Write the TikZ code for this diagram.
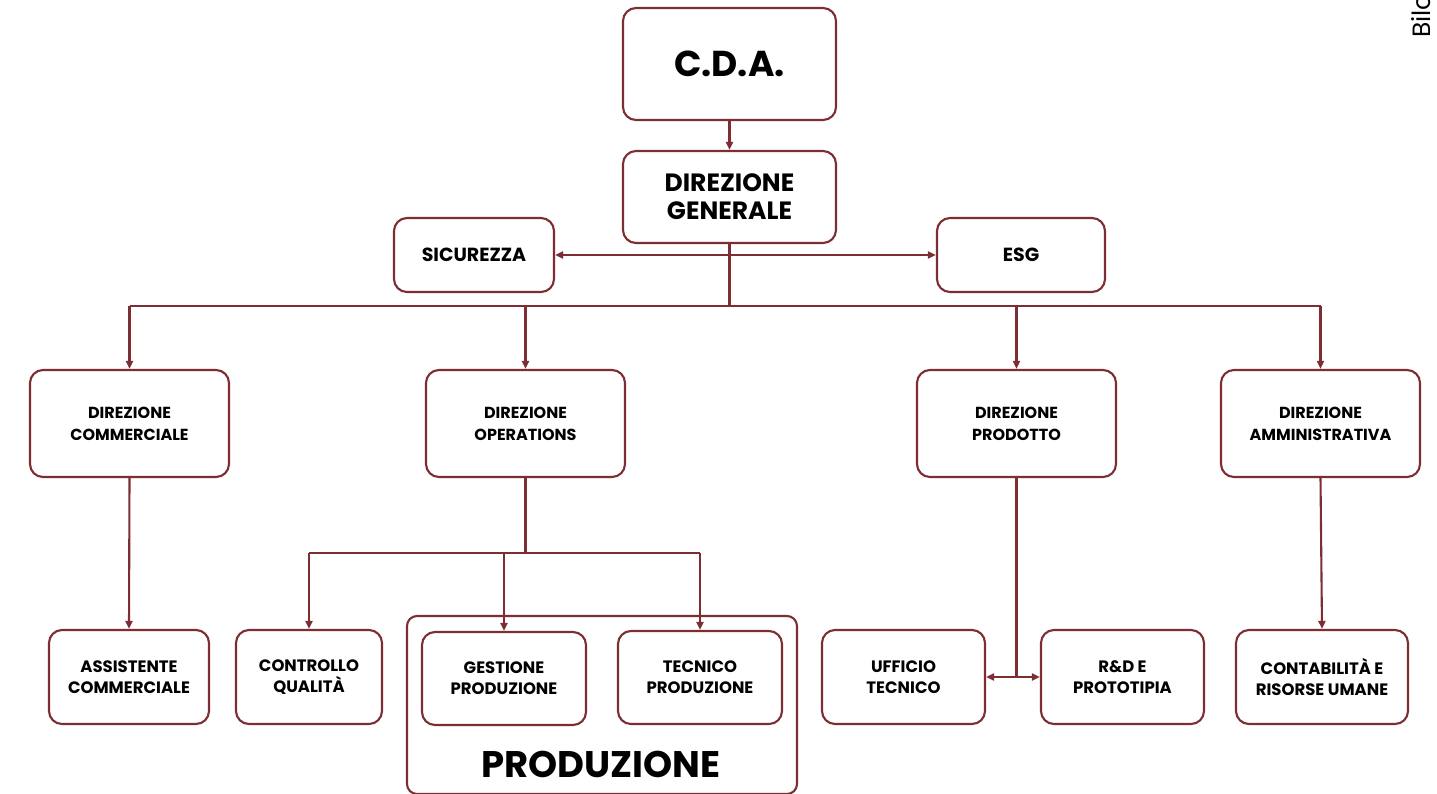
\documentclass[tikz,border=0pt]{standalone}
\usepackage{fontspec}
\setmainfont{Poppins}
\usetikzlibrary{arrows.meta}
\definecolor{wine}{RGB}{125,46,50}
\begin{document}
\begin{tikzpicture}[x=1pt,y=-1pt,
  box/.style={draw=wine, line width=2.1pt, rounded corners=13pt, fill=white, inner sep=0pt, align=center, font=\bfseries\fontsize{16.5}{21}\selectfont},
  midbox/.style={box, minimum width=199pt, minimum height=107pt, font=\bfseries\fontsize{16}{22}\selectfont},
  lowbox/.style={box, minimum height=94pt},
  conn/.style={draw=wine, line width=2.1pt},
  arr/.style={conn, -{Triangle[length=8pt,width=7pt]}},
  ]
\useasboundingbox (0,0) rectangle (1437,793);
\fill[white] (0,0) rectangle (1437,793);

% top
\node[box, minimum width=213pt, minimum height=112pt, font=\bfseries\fontsize{36}{40}\selectfont] (cda) at (729.5,64) {C.D.A.};
\node[box, minimum width=213pt, minimum height=92pt, font=\bfseries\fontsize{25}{28}\selectfont] (dg) at (729.5,197) {DIREZIONE\\GENERALE};
\node[box, minimum width=160pt, minimum height=74pt, font=\bfseries\fontsize{19}{22}\selectfont] (sic) at (474,255) {SICUREZZA};
\node[box, minimum width=168pt, minimum height=74pt, font=\bfseries\fontsize{19}{22}\selectfont] (esg) at (1021,255) {ESG};

% level 2
\node[midbox] (comm) at (129.5,423.5) {DIREZIONE\\COMMERCIALE};
\node[midbox] (ops) at (525.5,423.5) {DIREZIONE\\OPERATIONS};
\node[midbox] (prod) at (1016.5,423.5) {DIREZIONE\\PRODOTTO};
\node[midbox] (amm) at (1320.5,423.5) {DIREZIONE\\AMMINISTRATIVA};

% production container
\node[box, minimum width=390pt, minimum height=178pt, rounded corners=10pt] (prodarea) at (602,705) {};
\node[font=\bfseries\fontsize{37}{40}\selectfont, inner sep=0pt] (prodlabel) at (601,764) {PRODUZIONE};

% level 3
\node[lowbox, minimum width=160pt] (ass) at (129,677) {ASSISTENTE\\COMMERCIALE};
\node[lowbox, minimum width=146pt] (cq) at (309,677) {CONTROLLO\\QUALITÀ};
\node[lowbox, minimum width=164pt, minimum height=93pt] (gest) at (504,678.5) {GESTIONE\\PRODUZIONE};
\node[lowbox, minimum width=164pt, minimum height=93pt] (tec) at (700,677.5) {TECNICO\\PRODUZIONE};
\node[lowbox, minimum width=163pt] (uff) at (903.5,677) {UFFICIO\\TECNICO};
\node[lowbox, minimum width=163pt] (rd) at (1122.5,677) {R\&D E\\PROTOTIPIA};
\node[lowbox, minimum width=172pt] (cont) at (1322,677) {CONTABILITÀ E\\RISORSE UMANE};

% side text
\node[rotate=90, anchor=base west, inner sep=0pt, font=\fontsize{25}{25}\selectfont] (bilo) at (1430,38) {Bilo};

% connectors
\draw[arr] (cda) -- (dg);
\coordinate (bus) at (730,306);
\draw[conn] (dg.south) -- (dg.south |- bus);
\draw[arr] (dg.south |- sic.east) -- (sic.east);
\draw[arr] (dg.south |- esg.west) -- (esg.west);
\draw[conn] (comm.north |- bus) -- (amm.north |- bus);
\draw[arr] (comm.north |- bus) -- (comm.north);
\draw[arr] (ops.north |- bus) -- (ops.north);
\draw[arr] (prod.north |- bus) -- (prod.north);
\draw[arr] (amm.north |- bus) -- (amm.north);

\draw[arr] (comm.south) -- (ass.north);

\coordinate (obus) at (525,553);
\draw[conn] (ops.south) -- (ops.south |- obus);
\draw[conn] (cq.north |- obus) -- (tec.north |- obus);
\draw[arr] (cq.north |- obus) -- (cq.north);
\draw[arr] (gest.north |- obus) -- (gest.north);
\draw[arr] (tec.north |- obus) -- (tec.north);

\coordinate (pjoin) at (1016.5,677);
\draw[conn] (prod.south) -- (pjoin);
\draw[arr] (pjoin) -- (uff.east);
\draw[arr] (pjoin) -- (rd.west);

\draw[arr] (amm.south) -- (cont.north);
\end{tikzpicture}
\end{document}
